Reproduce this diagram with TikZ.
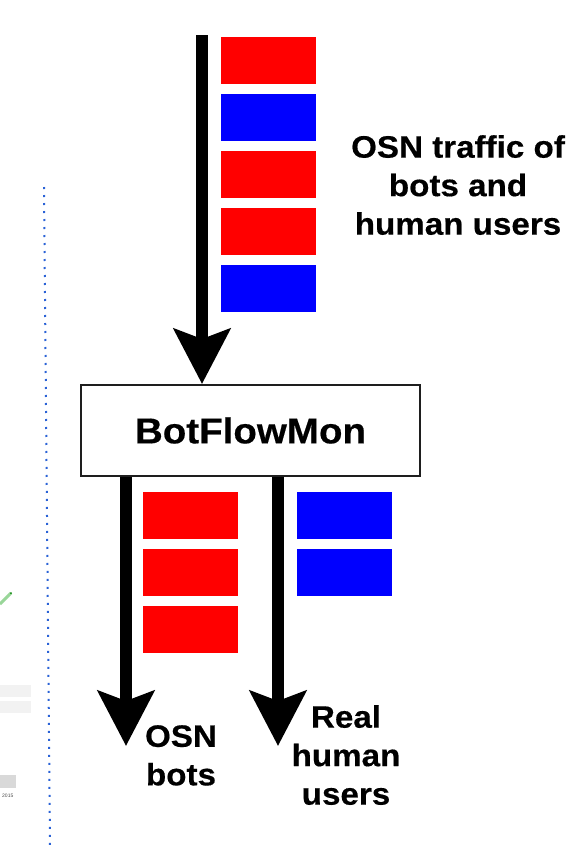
\documentclass[tikz,border=0pt]{standalone}
\usepackage{fontspec}
\setmainfont{Liberation Sans}
\newfontfamily\lblfont{Liberation Sans}[FakeStretch=1.07,FakeBold=0.4]
\usetikzlibrary{arrows.meta}
\definecolor{pktred}{HTML}{FF0000}
\definecolor{pktblue}{HTML}{0000FF}
\definecolor{dotblue}{HTML}{2A62D6}
\definecolor{boxline}{HTML}{1E1E1E}
\begin{document}
\begin{tikzpicture}[x=1pt,y=-1pt,
  pkt/.style={inner sep=0pt, minimum width=95pt, minimum height=47pt},
  botpkt/.style={pkt, fill=pktred},
  humpkt/.style={pkt, fill=pktblue},
  flow/.style={line width=12pt, -{Stealth[length=55pt,width=56pt,inset=10pt]}},
  lbl/.style={font=\lblfont\bfseries\fontsize{31}{38.5}\selectfont, align=center, inner sep=0pt, anchor=north},
  monbox/.style={draw=boxline, line width=2pt, fill=white, minimum width=339pt, minimum height=91pt, inner sep=0pt,
    font=\lblfont\bfseries\fontsize{36}{42}\selectfont}
]
\useasboundingbox (0,0) rectangle (571,852);

% cropped remnants at the left edge
\draw[dotblue, line width=2pt, dash pattern=on 2pt off 6pt] (44,187) -- (50,845);
\fill[black!5] (0,685) rectangle (31,697);
\fill[black!5] (0,701) rectangle (31,713);
\fill[black!15] (0,775) rectangle (16,788);
\node[font=\fontsize{5}{6}\selectfont, text=black!70, inner sep=0pt, anchor=west] (yr) at (2,796) {2015};
\draw[green!60!black!40, line width=3pt] (0,604) -- (11,593);
\fill[green!50!black] (11,593) circle (1pt);

% incoming traffic packets
\node[botpkt] (p1) at (268.5,60.5) {};
\node[humpkt] (p2) at (268.5,117.5) {};
\node[botpkt] (p3) at (268.5,174.5) {};
\node[botpkt] (p4) at (268.5,231.5) {};
\node[humpkt] (p5) at (268.5,288.5) {};

\node[lbl] (intxt) at (458,135) {OSN traffic of\\bots and\\human users};

% classifier box
\node[monbox] (box) at (250.5,430.5) {BotFlowMon};

\coordinate (src) at (202,35);
\draw[flow] (src) -- (src |- box.north);

% outputs
\coordinate (botsend) at (126,746);
\coordinate (humend) at (278,746);
\draw[flow] (box.south -| botsend) -- (botsend);
\draw[flow] (box.south -| humend) -- (humend);

\node[botpkt] (b1) at (190.5,515) {};
\node[botpkt] (b2) at (190.5,572) {};
\node[botpkt] (b3) at (190.5,629) {};
\node[humpkt] (h1) at (344.5,515) {};
\node[humpkt] (h2) at (344.5,572) {};

\node[lbl] (botstxt) at (181,725) {OSN\\bots};
\node[lbl] (humtxt) at (346,705) {Real\\human\\users};
\end{tikzpicture}
\end{document}
